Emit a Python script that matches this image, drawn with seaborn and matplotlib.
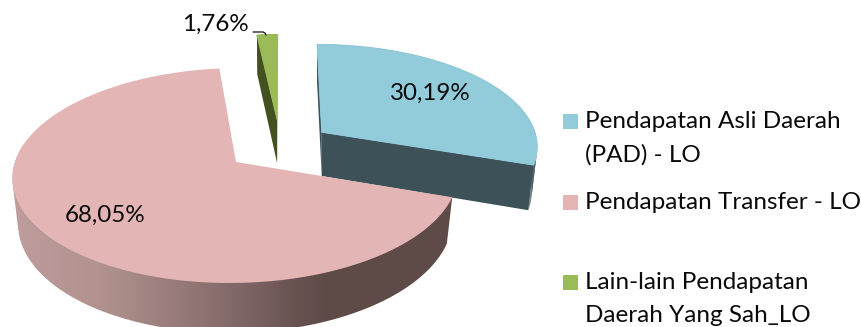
import numpy as np
import matplotlib
matplotlib.use("Agg")
import matplotlib.pyplot as plt
from matplotlib.patches import Polygon, Rectangle
from matplotlib.colors import to_rgb
import seaborn as sns

# ---- data -------------------------------------------------------------
categories = ["Pendapatan Asli Daerah\n(PAD) - LO",
              "Pendapatan Transfer - LO",
              "Lain-lain Pendapatan\nDaerah Yang Sah_LO"]
shares = [30.19, 68.05, 1.76]

# ---- style ------------------------------------------------------------
sns.set_theme(style="white")
plt.rcParams["font.family"] = ["Lato", "DejaVu Sans"]
top_colors = sns.color_palette(["#92CBDA", "#E3B5B4", "#9BBB59"])
wall_colors = sns.color_palette(["#3D5158", "#5E4B48", "#43501F"])
TEXT = "#0a0a0a"
FS = 17.4
FS_LEG = 17.5

CX, CY, SX, SY, K = 236.0, 162.0, 221.0, 105.8, 0.1256
DEPTH, DEPTH_SLOPE, BASE_SCALE = 45.0, 0.04, 0.975
explode = [0.5, 0.0, 0.42]
x_nudge = [-2.5, 0.0, 46.0]
lean = [0.054, 0.054, 0.0]


def project(u, v, idx):
    w = 1 + K * v
    x, y = SX * u / w, SY * v / w
    return np.column_stack([CX + x_nudge[idx] + x + lean[idx] * y, CY - y])


def slice_geometry(idx, start, end):
    mid = np.radians((start + end) / 2)
    ou, ov = explode[idx] * np.sin(mid), explode[idx] * np.cos(mid)
    th = np.radians(np.linspace(start, end, 160))
    rim = project(ou + np.sin(th), ov + np.cos(th), idx)
    apex = project(np.array([ou]), np.array([ov]), idx)
    return rim, apex


def base_of(pts, apex):
    out = pts.copy()
    out[:, 0] = apex[0, 0] + BASE_SCALE * (pts[:, 0] - apex[0, 0])
    out[:, 1] = pts[:, 1] + DEPTH - DEPTH_SLOPE * (CY - pts[:, 1])
    return out


def hull(points):
    pts = sorted(map(tuple, points))

    def half(seq):
        chain = []
        for p in seq:
            while len(chain) > 1 and ((chain[-1][0] - chain[-2][0]) * (p[1] - chain[-2][1])
                                      - (chain[-1][1] - chain[-2][1]) * (p[0] - chain[-2][0])) <= 0:
                chain.pop()
            chain.append(p)
        return chain[:-1]

    return np.array(half(pts) + half(pts[::-1]))


fig = plt.figure(figsize=(8.62, 3.27), dpi=100)
ax = fig.add_axes([0, 0, 1, 1])
ax.set_axis_off()

# slice angles, clockwise from 12 o'clock, from the values
total = sum(shares)
edges = np.cumsum([0] + shares) / total * 360

geo = [slice_geometry(i, edges[i], edges[i + 1]) for i in range(3)]
ORDER = [2, 0, 1]
for z, i in enumerate(ORDER):
    rim, apex = geo[i]
    base_rim, base_apex = base_of(rim, apex), base_of(apex, apex)
    if i == 1:
        # rim wall of the large slice, shaded from left to right
        th = np.linspace(edges[1], edges[2], 160)
        keep = th < 280
        wall = Polygon(hull(np.vstack([rim[keep], base_rim[keep]])),
                       closed=True, fc="none", ec="none", transform=ax.transData)
        ax.add_patch(wall)
        xs = np.arange(0, 862)
        sx = [20, 100, 180, 250, 290, 325, 862]
        stops = np.array([to_rgb(c) for c in
                          ["#BD9C9B", "#B1928F", "#967A77", "#7C6363", "#6A5452", "#5E4B48", "#5E4B48"]])
        grad = np.stack([np.interp(xs, sx, stops[:, k]) for k in range(3)], axis=-1)[None, ...]
        im = ax.imshow(grad, extent=(0, 862, 327, 0), aspect="auto", zorder=z * 3 + 1)
        im.set_clip_path(wall)
        top_ec, top_lw = "none", 0
    else:
        loop_top = np.vstack([apex, rim, apex])
        loop_base = np.vstack([base_apex, base_rim, base_apex])
        for a in range(len(loop_top) - 1):
            ax.add_patch(Polygon([loop_top[a], loop_top[a + 1], loop_base[a + 1], loop_base[a]],
                                 closed=True, fc=wall_colors[i], ec="none", lw=0,
                                 zorder=z * 3 + 1))
        top_ec, top_lw = top_colors[i], 0.7
    ax.add_patch(Polygon(np.vstack([apex, rim]), closed=True, fc=top_colors[i], ec=top_ec,
                         lw=top_lw, zorder=z * 3 + 2))

ax.set_xlim(0, 862)
ax.set_ylim(327, 0)


def pct(v):
    return f"{v:.2f}%".replace(".", ",")


ax.text(430, 93, pct(shares[0]), ha="center", va="center", fontsize=FS, color=TEXT, zorder=20)
ax.text(105, 215, pct(shares[1]), ha="center", va="center", fontsize=FS, color=TEXT, zorder=20)
ax.text(215, 24, pct(shares[2]), ha="center", va="center", fontsize=FS, color=TEXT, zorder=20)
ax.plot([253, 263, 265, 266], [32, 32, 33, 35], color="#111111", lw=0.9, zorder=20)

# legend
row_y = [121.5, 202.5, 282.5]
line_gap = 33
for name, color, y in zip(categories, top_colors, row_y):
    ax.add_patch(Rectangle((563, y - 7.5), 15, 15, fc=color, ec="none", zorder=20))
    for n, line in enumerate(name.split("\n")):
        ax.text(585, y + n * line_gap, line, ha="left", va="center", fontsize=FS_LEG,
                color=TEXT, zorder=20)

fig.savefig("out.png", dpi=100)
